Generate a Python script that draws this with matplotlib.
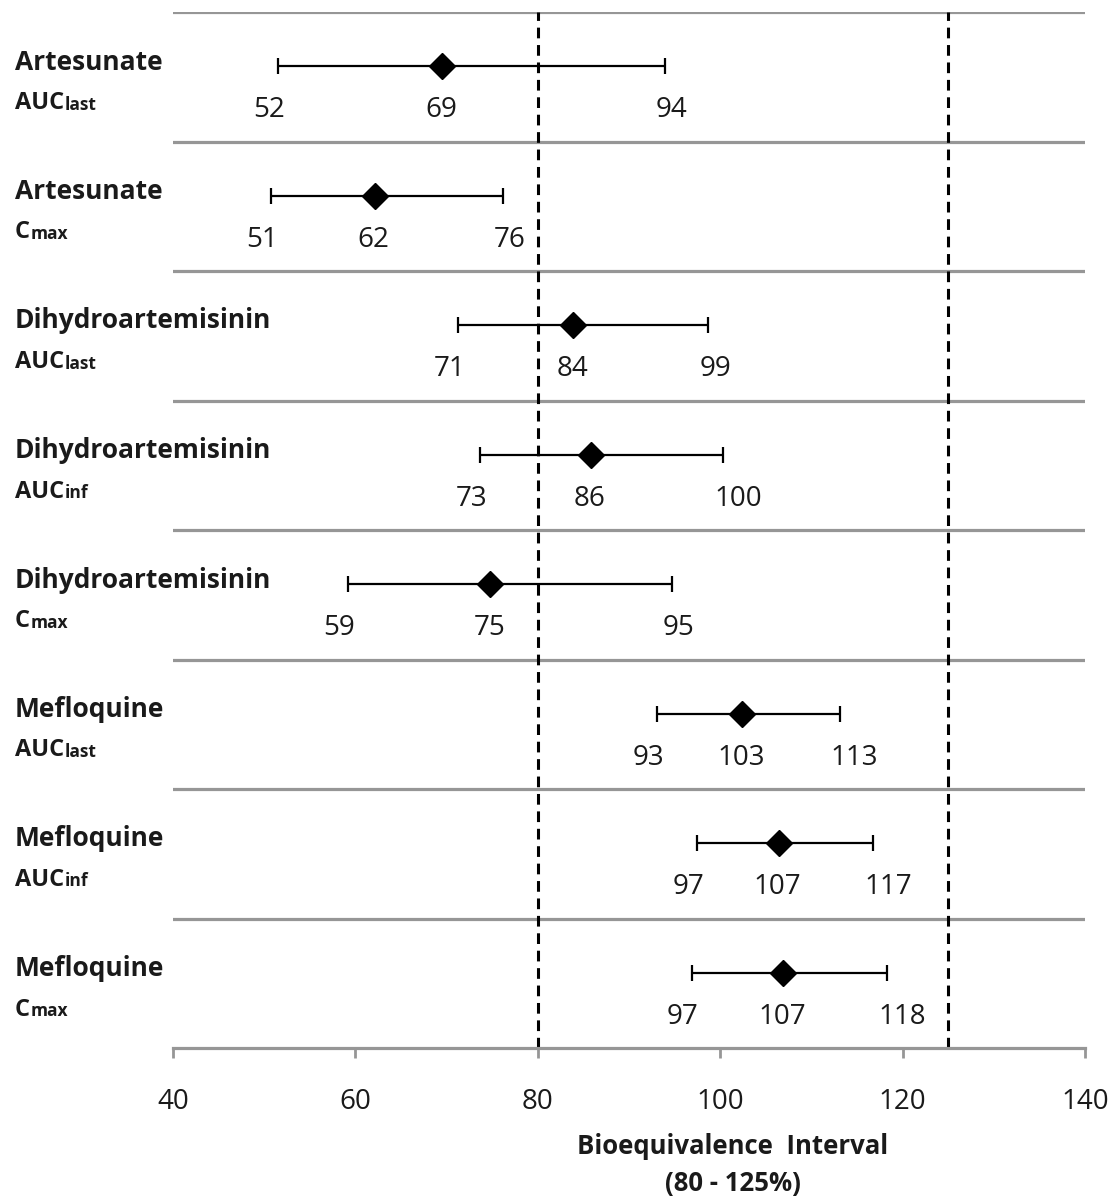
import matplotlib.pyplot as plt

plt.rcParams['font.family'] = ['Open Sans', 'DejaVu Sans']

drugs = ['Artesunate', 'Artesunate', 'Dihydroartemisinin', 'Dihydroartemisinin',
         'Dihydroartemisinin', 'Mefloquine', 'Mefloquine', 'Mefloquine']
params = ['last', 'max', 'last', 'inf', 'max', 'last', 'inf', 'max']
prefix = ['AUC', 'C', 'AUC', 'AUC', 'C', 'AUC', 'AUC', 'C']

point = [69.5, 62.1, 83.9, 85.8, 74.8, 102.4, 106.4, 106.9]
lower = [51.5, 50.7, 71.3, 73.7, 59.2, 93.1, 97.5, 96.9]
upper = [93.9, 76.2, 98.7, 100.3, 94.7, 113.1, 116.8, 118.3]

point_lbl = ['69', '62', '84', '86', '75', '103', '107', '107']
lower_lbl = ['52', '51', '71', '73', '59', '93', '97', '97']
upper_lbl = ['94', '76', '99', '100', '95', '113', '117', '118']

be_limits = [80, 125]
xticks = [40, 60, 80, 100, 120, 140]

GRAY = '#969696'
TXT = '#1a1a1a'
W, H = 1110, 1199


def fy(py):
    # pixel row (from top) -> figure fraction
    return 1 - py / H


fig = plt.figure(figsize=(W / 100, H / 100), dpi=100)
ax = fig.add_axes([173 / W, fy(1048), 912 / W, 1036 / H])
ax.set_xlim(40, 140)
ax.set_ylim(8, 0)

# row separators
for i in range(8):
    ax.axhline(i, color=GRAY, lw=2.3, zorder=1)

# bioequivalence limits
for b in be_limits:
    ax.axvline(b, color='black', lw=2.2, ls=(0, (3.5, 2.2)), zorder=2)

n = len(point)
for i in range(n):
    yb = i + 0.42
    yl = i + 0.76
    ax.errorbar(point[i], yb, xerr=[[point[i] - lower[i]], [upper[i] - point[i]]],
                fmt='D', color='black', ms=13, elinewidth=1.6, capsize=6, capthick=1.6, zorder=4)
    ax.annotate(lower_lbl[i], (lower[i], yl), xytext=(-9, 0), textcoords='offset pixels',
                ha='center', va='center', fontsize=20, color=TXT)
    ax.annotate(point_lbl[i], (point[i], yl), xytext=(-1, 0), textcoords='offset pixels',
                ha='center', va='center', fontsize=20, color=TXT)
    off = 7 if len(upper_lbl[i]) == 2 else 15
    ax.annotate(upper_lbl[i], (upper[i], yl), xytext=(off, 0), textcoords='offset pixels',
                ha='center', va='center', fontsize=20, color=TXT)

    # row labels on the left
    sep = 12 + 129.5 * i
    fig.text(15 / W, fy(sep + 50), drugs[i], fontsize=19, fontweight='bold',
             ha='left', va='center', color=TXT)
    t = fig.text(15 / W, fy(sep + 97), prefix[i], fontsize=17, fontweight='bold',
                 ha='left', va='baseline', color=TXT)
    ax.annotate(params[i], xy=(1, 0), xycoords=t, xytext=(1, 1.5), textcoords='offset pixels',
                ha='left', va='bottom', fontsize=12.5, fontweight='bold', color=TXT,
                annotation_clip=False)

for s in ['top', 'left', 'right']:
    ax.spines[s].set_visible(False)
ax.spines['bottom'].set_color(GRAY)
ax.spines['bottom'].set_linewidth(2.3)
ax.set_yticks([])
ax.set_xticks(xticks)
ax.tick_params(axis='x', length=7, width=2, color=GRAY, pad=22, labelsize=20, labelcolor=TXT)

fig.text(733 / W, fy(1147), 'Bioequivalence  Interval', ha='center', va='center',
         fontsize=18.5, fontweight='bold', color=TXT)
fig.text(733 / W, fy(1184), '(80 - 125%)', ha='center', va='center',
         fontsize=18.5, fontweight='bold', color=TXT)

fig.savefig('out.png', dpi=100)
